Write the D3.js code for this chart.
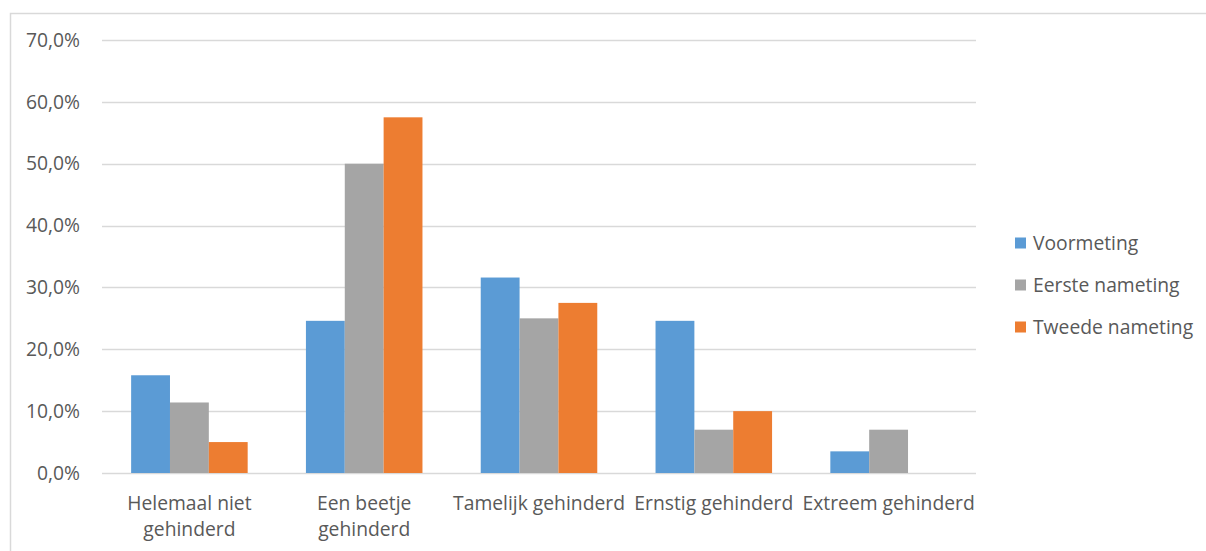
<!DOCTYPE html>
<html><head><meta charset="utf-8">
<script src="https://cdn.jsdelivr.net/npm/d3@7"></script>
<style>
html,body{margin:0;padding:0;background:#fff;}
svg{display:block;}
text{font-family:"Open Sans", sans-serif;fill:#595959;}
</style></head>
<body>
<svg id="chart" width="1206" height="551"></svg>
<script>
const categories = ["Helemaal niet gehinderd", "Een beetje gehinderd", "Tamelijk gehinderd", "Ernstig gehinderd", "Extreem gehinderd"];
const categoryLines = [["Helemaal niet", "gehinderd"], ["Een beetje", "gehinderd"], ["Tamelijk gehinderd"], ["Ernstig gehinderd"], ["Extreem gehinderd"]];
const seriesNames = ["Voormeting", "Eerste nameting", "Tweede nameting"];
const voormeting = [15.8, 24.6, 31.6, 24.6, 3.5];
const eersteNameting = [11.4, 50.0, 25.0, 7.0, 7.0];
const tweedeNameting = [5.0, 57.5, 27.5, 10.0, 0];
const yTicks = [0, 10, 20, 30, 40, 50, 60, 70];
const colors = ["#5B9BD5", "#A5A5A5", "#ED7D31"];

(function () {
const seriesValues = [voormeting, eersteNameting, tweedeNameting];
const svg = d3.select("#chart");
const fs = 19.3;

// outer border
svg.append("path").attr("d", "M10.5,551 L10.5,13.5 L1206,13.5")
  .attr("fill", "none").attr("stroke", "#D9D9D9").attr("stroke-width", 1.5);

const pLeft = 102, pRight = 976, pTop = 40, pBottom = 473;
const x0 = d3.scaleBand().domain(categories).range([pLeft, pRight]).padding(0);
const gapFrac = 1.5 / 4.5; // Excel gap width 150%
const x1 = d3.scaleBand().domain(seriesNames)
  .range([x0.bandwidth() * gapFrac / 2, x0.bandwidth() * (1 - gapFrac / 2)]).padding(0);
const y = d3.scaleLinear().domain([0, 70]).range([pBottom, pTop]);

// gridlines
svg.append("g").selectAll("line").data(yTicks).join("line")
  .attr("x1", pLeft).attr("x2", pRight)
  .attr("y1", d => Math.round(y(d)) + 0.5).attr("y2", d => Math.round(y(d)) + 0.5)
  .attr("stroke", "#D9D9D9").attr("stroke-width", 1.3);

// y labels
const fmt = d => d3.format(".1f")(d).replace(".", ",") + "%";
svg.append("g").selectAll("text").data(yTicks).join("text")
  .attr("x", 80).attr("y", d => y(d)).attr("dy", "0.35em")
  .attr("text-anchor", "end").attr("font-size", fs).text(fmt);

// bars
const rows = categories.map((c, i) => ({cat: c, vals: seriesValues.map((s, j) => ({name: seriesNames[j], v: s[i], j}))}));
svg.append("g").selectAll("g").data(rows).join("g")
  .attr("transform", d => `translate(${x0(d.cat)},0)`)
  .selectAll("rect").data(d => d.vals.filter(v => v.v > 0)).join("rect")
  .attr("x", d => x1(d.name)).attr("width", x1.bandwidth())
  .attr("y", d => y(d.v)).attr("height", d => y(0) - y(d.v))
  .attr("fill", d => colors[d.j]);

// x labels
const xl = svg.append("g").selectAll("text").data(categories).join("text")
  .attr("text-anchor", "middle").attr("font-size", fs)
  .attr("transform", d => `translate(${x0(d) + x0.bandwidth() / 2},510)`);
xl.selectAll("tspan").data((d, i) => categoryLines[i]).join("tspan")
  .attr("x", 0).attr("y", (d, i) => i * 25.5).text(d => d);

// legend
const lg = svg.append("g").selectAll("g").data(seriesNames).join("g")
  .attr("transform", (d, i) => `translate(1015,${243 + i * 42})`);
lg.append("rect").attr("x", 0).attr("y", -5.5).attr("width", 11).attr("height", 11)
  .attr("fill", (d, i) => colors[i]);
lg.append("text").attr("x", 18).attr("dy", "0.35em").attr("font-size", fs).text(d => d);
})();
</script>
</body></html>
